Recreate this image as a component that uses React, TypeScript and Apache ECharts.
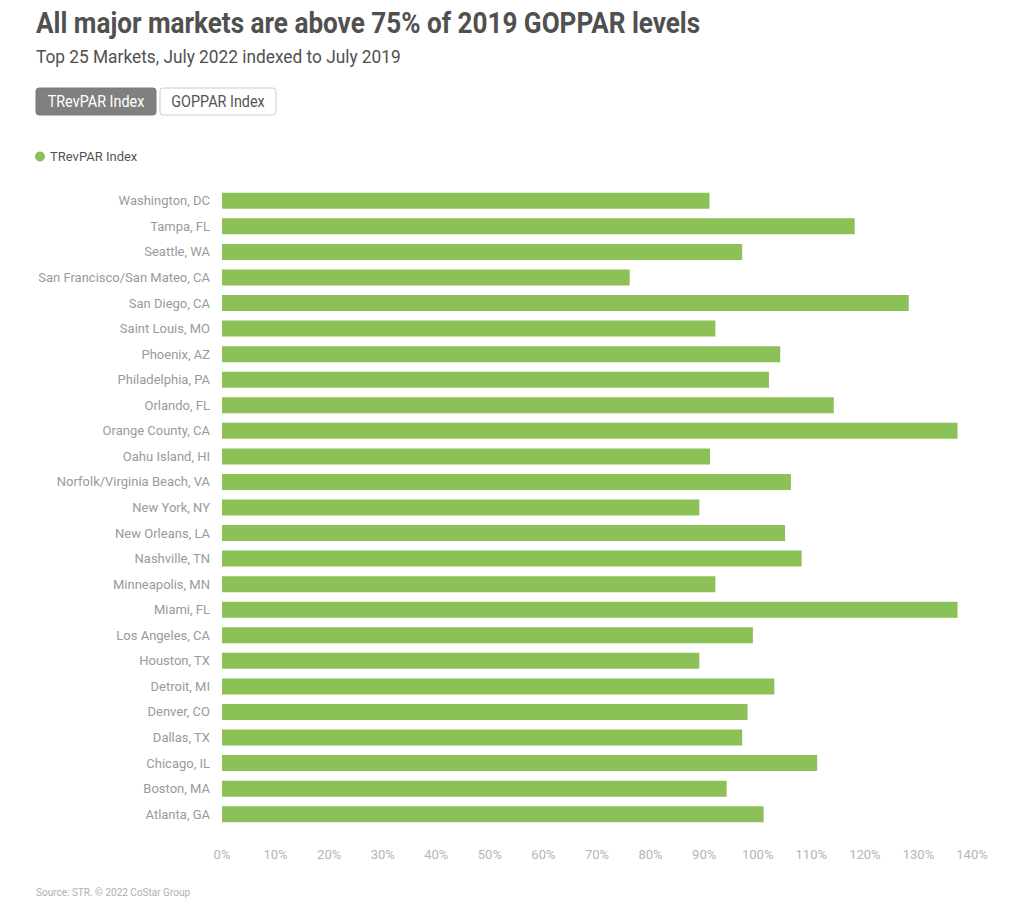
import React, { useEffect, useRef } from "react";
import * as echarts from "echarts";

const categories = [
  "Washington, DC",
  "Tampa, FL",
  "Seattle, WA",
  "San Francisco/San Mateo, CA",
  "San Diego, CA",
  "Saint Louis, MO",
  "Phoenix, AZ",
  "Philadelphia, PA",
  "Orlando, FL",
  "Orange County, CA",
  "Oahu Island, HI",
  "Norfolk/Virginia Beach, VA",
  "New York, NY",
  "New Orleans, LA",
  "Nashville, TN",
  "Minneapolis, MN",
  "Miami, FL",
  "Los Angeles, CA",
  "Houston, TX",
  "Detroit, MI",
  "Denver, CO",
  "Dallas, TX",
  "Chicago, IL",
  "Boston, MA",
  "Atlanta, GA",
];

const trevparIndex = [
  91.0, 118.1, 97.1, 76.1, 128.2, 92.1, 104.2, 102.1, 114.2, 137.3, 91.1, 106.2, 89.1,
  105.1, 108.2, 92.1, 137.3, 99.1, 89.1, 103.1, 98.1, 97.1, 111.1, 94.2, 101.1,
];

const xTicks = [0, 10, 20, 30, 40, 50, 60, 70, 80, 90, 100, 110, 120, 130, 140];

const TITLE = "All major markets are above 75% of 2019 GOPPAR levels";
const SUBTITLE = "Top 25 Markets, July 2022 indexed to July 2019";
const SOURCE = "Source: STR. © 2022 CoStar Group";
const SERIES_NAME = "TRevPAR Index";
const BUTTONS = ["TRevPAR Index", "GOPPAR Index"];

export default function App() {
  const ref = useRef<HTMLDivElement>(null);
  useEffect(() => {
    document.body.style.margin = "0";
    if (!ref.current) return;
    const chart = echarts.init(ref.current, null, { renderer: "svg" });
    const font = "Roboto, 'Noto Sans', sans-serif";
    chart.setOption({
      animation: false,
      backgroundColor: "#ffffff",
      textStyle: { fontFamily: font },
      grid: { left: 222, right: 52, top: 188, bottom: 79, containLabel: false },
      legend: {
        data: [SERIES_NAME],
        left: 30,
        top: 145,
        icon: "circle",
        itemWidth: 10,
        itemHeight: 10,
        itemGap: 6,
        textStyle: { color: "#555555", fontSize: 13, fontFamily: font },
      },
      xAxis: {
        type: "value",
        min: xTicks[0],
        max: xTicks[xTicks.length - 1],
        interval: 10,
        axisLine: { show: false },
        axisTick: { show: false },
        splitLine: { show: false },
        axisLabel: {
          color: "#b5b5b5",
          fontSize: 13,
          margin: 21,
          formatter: (v: number) => `${v}%`,
        },
      },
      yAxis: {
        type: "category",
        data: categories,
        inverse: true,
        axisLine: { show: false },
        axisTick: { show: false },
        axisLabel: { color: "#9a9a9a", fontSize: 13, margin: 12 },
      },
      series: [
        {
          name: SERIES_NAME,
          type: "bar",
          data: trevparIndex,
          barWidth: 16,
          itemStyle: { color: "#8cc157" },
        },
      ],
      graphic: [
        {
          type: "text",
          left: 36,
          top: 8,
          scaleX: 0.87,
          style: {
            text: TITLE,
            fill: "#505050",
            font: `bold 30px ${font}`,
          },
        },
        {
          type: "text",
          left: 36,
          top: 47,
          scaleX: 0.91,
          style: {
            text: SUBTITLE,
            fill: "#505050",
            font: `19px ${font}`,
          },
        },
        {
          type: "rect",
          shape: { x: 36, y: 88, width: 120, height: 27, r: 3 },
          style: { fill: "#808080", stroke: "#7a7a7a", lineWidth: 1 },
        },
        {
          type: "text",
          x: 96,
          y: 101.5,
          scaleX: 0.9,
          style: {
            text: BUTTONS[0],
            fill: "#ffffff",
            font: `16px ${font}`,
            align: "center",
            verticalAlign: "middle",
          },
        },
        {
          type: "rect",
          shape: { x: 160, y: 88, width: 116, height: 27, r: 3 },
          style: { fill: "#ffffff", stroke: "#cccccc", lineWidth: 1 },
        },
        {
          type: "text",
          x: 218,
          y: 101.5,
          scaleX: 0.9,
          style: {
            text: BUTTONS[1],
            fill: "#555555",
            font: `16px ${font}`,
            align: "center",
            verticalAlign: "middle",
          },
        },
        {
          type: "text",
          left: 36,
          top: 887,
          style: {
            text: SOURCE,
            fill: "#b0b0b0",
            font: `10px ${font}`,
          },
        },
      ],
    });
    return () => chart.dispose();
  }, []);
  return <div ref={ref} style={{ width: 1024, height: 906 }} />;
}
